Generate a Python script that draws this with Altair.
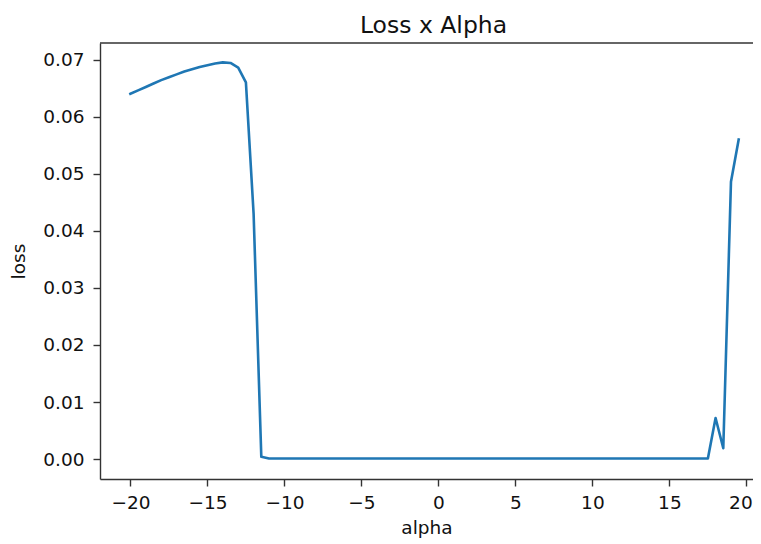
import altair as alt
import pandas as pd

# alpha values (step 0.5 from -20 to 19.5)
alpha = [-20.0 + 0.5 * i for i in range(80)]

# -20 .. -11.5
loss_left = [0.0640, 0.0646, 0.0652, 0.0658, 0.0664, 0.0669, 0.0674, 0.0679,
             0.0683, 0.0687, 0.0690, 0.0693, 0.0695, 0.0694, 0.0686, 0.0660,
             0.0430, 0.0004]
# -11 .. 17.5
loss_flat = [0.0001] * 58
# 18 .. 19.5
loss_right = [0.0072, 0.0019, 0.0486, 0.0560]
loss = loss_left + loss_flat + loss_right

x_ticks = [-20, -15, -10, -5, 0, 5, 10, 15, 20]
y_ticks = [0.00, 0.01, 0.02, 0.03, 0.04, 0.05, 0.06, 0.07]

df = pd.DataFrame({"alpha": alpha, "loss": loss})

W, H = 653, 436
FONT = "DejaVu Sans"

line = alt.Chart(df).mark_line(
    color="#1f77b4", strokeWidth=2.6, strokeJoin="round", strokeCap="square"
).encode(
    x=alt.X("alpha:Q",
            scale=alt.Scale(domain=[-21.975, 20.43], nice=False, zero=False),
            axis=alt.Axis(values=x_ticks, format="d", title="alpha",
                          labelPadding=7, titlePadding=7,
                          labelOffset={"condition": {"test": "datum.value === 20",
                                                     "value": -6},
                                       "value": 0})),
    y=alt.Y("loss:Q",
            scale=alt.Scale(domain=[-0.00348, 0.0729], nice=False, zero=False),
            axis=alt.Axis(values=y_ticks, format=".2f", title="loss",
                          labelPadding=9, titlePadding=14)),
)

top = alt.Chart(pd.DataFrame({"k": [0]})).mark_rule(
    color="#333333", strokeWidth=1.4
).encode(x=alt.value(0), x2=alt.value(W), y=alt.value(0))

chart = alt.layer(line, top).properties(
    width=W, height=H,
    background="white",
    title=alt.TitleParams("Loss x Alpha", font=FONT, fontSize=23.5,
                          fontWeight="normal", color="#111111", offset=5, dx=7),
    autosize=alt.AutoSizeParams(type="none"),
    padding={"left": 92, "top": 35, "right": 0, "bottom": 62},
).configure_view(
    stroke=None
).configure_axis(
    grid=False,
    domainColor="#333333", domainWidth=1.4,
    tickColor="#333333", tickWidth=1.4, tickSize=7,
    labelFont=FONT, labelFontSize=18.5, labelColor="#111111",
    titleFont=FONT, titleFontSize=18.5, titleFontWeight="normal", titleColor="#111111",
)

chart.save("out.html", embed_options={"renderer": "svg", "actions": False})
